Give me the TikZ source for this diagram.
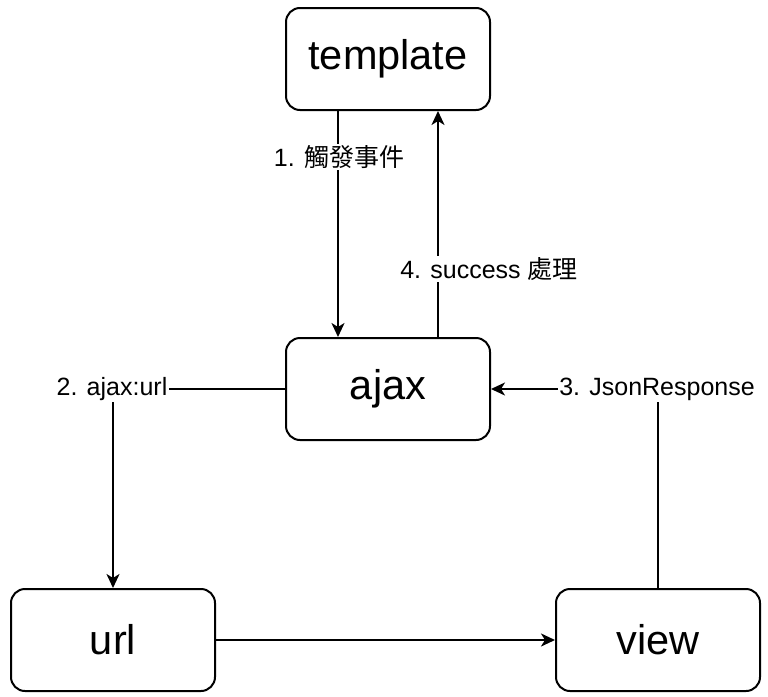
\documentclass[tikz,border=0pt]{standalone}
\usepackage{fontspec}
\setmainfont{Liberation Sans}
\newfontfamily\cjk{Noto Sans CJK TC}
\usetikzlibrary{arrows.meta}
\begin{document}
\begin{tikzpicture}[x=1pt,y=-1pt,
  box/.style={draw=black,line width=2pt,rounded corners=14pt,fill=white,
    minimum width=204pt,minimum height=102pt,inner sep=0pt,
    font=\fontsize{41.5}{48}\selectfont},
  conn/.style={draw=black,line width=2pt},
  arr/.style={conn,-{Stealth[length=14pt,width=13pt,inset=4pt]}},
  lbl/.style={fill=white,inner sep=1.5pt,font=\fontsize{25}{30}\selectfont}]
\useasboundingbox (0,0) rectangle (768,696);
\node[box] (template) at (388,59) {template};
\node[box] (ajax) at (388,389) {ajax};
\node[box] (url) at (113,640) {url};
\node[box] (view) at (658,640) {view};
% 1
\draw[arr] ([xshift=-50pt]template.south) -- ([xshift=-50pt]ajax.north);
\node[lbl] (l1) at (339,157) {1. {\cjk 觸發事件}};
% 4
\draw[arr] ([xshift=50pt]ajax.north) -- ([xshift=50pt]template.south);
\node[lbl] (l4) at (489,269) {4. success {\cjk 處理}};
% 2
\draw[arr] (ajax.west) -| (url.north);
\node[lbl] (l2) at (112,389) {2. ajax:url};
% 3
\draw[arr] (view.north) |- (ajax.east);
\node[lbl] (l3) at (657,389) {3. JsonResponse};
% url -> view
\draw[arr] (url.east) -- (view.west);
\end{tikzpicture}
\end{document}
